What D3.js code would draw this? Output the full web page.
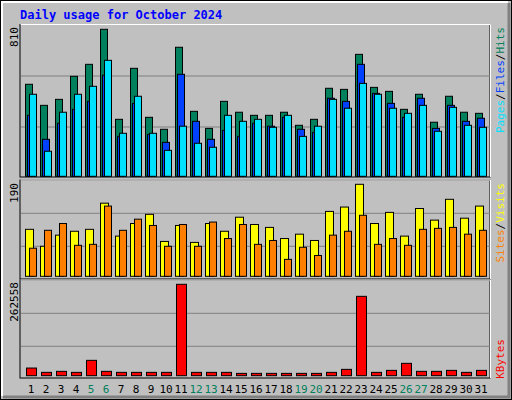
<!DOCTYPE html>
<html><head><meta charset="utf-8">
<script src="https://cdn.jsdelivr.net/npm/d3@7"></script>
<style>body{margin:0;background:#fff}text{font-family:"DejaVu Sans Mono",monospace}</style>
</head><body><div id="chart"></div>
<script>
const days = d3.range(1, 32);
const weekend = [5, 6, 12, 13, 19, 20, 26, 27];
const hits = [507,391,424,551,617,810,314,595,325,259,711,358,264,413,353,336,336,353,281,314,485,479,672,490,468,369,452,298,441,353,347];
const files = [336,204,292,369,413,557,220,402,231,187,562,303,204,253,220,292,276,325,259,242,430,413,617,457,402,325,430,264,391,303,320];
const pages = [452,138,353,452,496,639,237,441,237,143,276,182,160,336,303,314,270,336,220,276,424,375,512,452,375,347,391,248,380,281,270];
const sites = [97,62,85,93,97,151,83,109,128,72,105,70,109,93,122,107,101,78,87,74,134,143,190,109,132,83,140,116,159,120,145];
const visits = [58,95,109,64,66,145,95,118,105,62,107,62,112,78,107,66,74,35,60,43,85,93,126,66,78,64,97,99,101,87,95];
const kbytes = [22000,9600,12500,9600,44100,12500,9600,9600,9600,9600,262558,9600,9600,9600,6700,6700,6700,6700,6700,6700,9600,18200,228000,9600,15300,35500,12500,12500,15300,9600,15300];

const W = 512, H = 400;
const svg = d3.select("#chart").append("svg").attr("width", W).attr("height", H);

// frame
svg.append("rect").attr("x",0).attr("y",0).attr("width",W).attr("height",H).attr("fill","#C0C0C0");
svg.append("rect").attr("x",0.5).attr("y",0.5).attr("width",W-1).attr("height",H-1).attr("fill","none").attr("stroke","#000");
svg.append("path").attr("d","M2,396V2H508").attr("fill","none").attr("stroke","#fff").attr("stroke-width",2);
svg.append("path").attr("d","M3,397H509V3").attr("fill","none").attr("stroke","#808080").attr("stroke-width",3);

svg.append("text").attr("x",20).attr("y",19).attr("fill","#0000FF")
  .style("font-size","12px").style("font-weight","bold").text("Daily usage for October 2024");

const x = d3.scaleLinear().domain([1, 32]).range([25, 490]);

const panels = [
  {top:24.5, bottom:177, base:176.3, max:810, maxY:29.3, grid:[127,76], label:"810", labY:27},
  {top:180, bottom:279, base:276.3, max:190, maxY:184.3, grid:[246.3,213.3], label:"190", labY:183},
  {top:280, bottom:378, base:375.7, max:262558, maxY:284.3, grid:[346.3,313.3], label:"262558", labY:282}
];
panels.forEach(p => {
  p.y = d3.scaleLinear().domain([0, p.max]).range([p.base, p.maxY]);
  svg.append("rect").attr("x",20).attr("y",p.top).attr("width",470).attr("height",p.bottom-p.top)
    .attr("fill","#C0C0C0").attr("stroke","#000");
  svg.append("path").attr("d",`M20.5,${p.top}H490.5V${p.bottom}`).attr("fill","none").attr("stroke","#fff");
  svg.selectAll(null).data(p.grid).enter().append("line")
    .attr("x1",21).attr("x2",490).attr("y1",d=>d).attr("y2",d=>d).attr("stroke","#808080");
  svg.append("text").attr("transform",`translate(18,${p.labY}) rotate(-90)`).attr("text-anchor","end")
    .style("font-size","11px").attr("fill","#000").text(p.label);
});

function bars(panel, vals, dx, w, color) {
  const y = panels[panel].y;
  svg.append("g").selectAll("rect").data(vals).enter().append("rect")
    .attr("x", (d,i) => x(days[i]) + dx + 0.5)
    .attr("y", d => y(d))
    .attr("width", w)
    .attr("height", d => y(0) - y(d))
    .attr("fill", color).attr("stroke", "#000");
}
bars(0, hits, 0, 7, "#00805C");
bars(0, files, 2, 7, "#0040FF");
bars(0, pages, 4, 7, "#00E0FF");
bars(1, sites, 0, 8, "#FFFF00");
bars(1, visits, 4, 7, "#FF8000");
bars(2, kbytes, 1, 10, "#FF0000");

// day labels
svg.append("g").selectAll("text").data(days).enter().append("text")
  .attr("x", d => x(d) + 6).attr("y", 393).attr("text-anchor","middle")
  .style("font-size","11px").attr("fill", d => weekend.includes(d) ? "#00805C" : "#000")
  .text(d => d);

// right legends
function legend(yTop, parts) {
  const t = svg.append("text").attr("transform",`translate(504,${yTop}) rotate(-90)`)
    .attr("text-anchor","end").style("font-size","11px");
  parts.forEach(([s,c]) => t.append("tspan").attr("fill",c).text(s));
}
legend(27, [["Pages","#00E0FF"],["/","#000"],["Files","#0040FF"],["/","#000"],["Hits","#00805C"]]);
legend(183, [["Sites","#FF8000"],["/","#000"],["Visits","#FFFF00"]]);
legend(339, [["KBytes","#FF0000"]]);
</script></body></html>
